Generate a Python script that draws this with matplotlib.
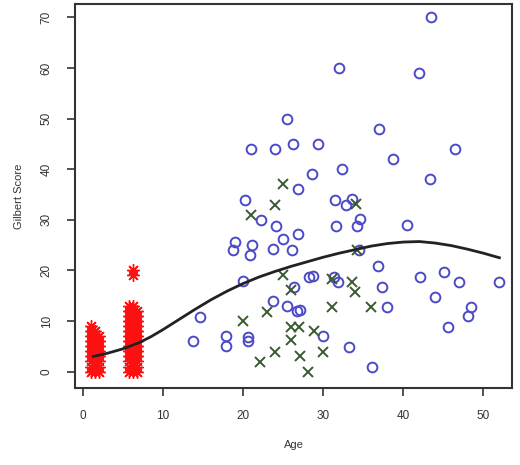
import matplotlib
matplotlib.use("Agg")
import matplotlib.pyplot as plt

plt.rcParams['font.family'] = ['Liberation Sans', 'DejaVu Sans']

# Blue circles
blue_age = [43.5, 32, 42, 25.5, 37, 21, 24, 26.2, 29.4, 46.5, 38.7, 28.6, 32.3, 43.3,
            26.8, 20.2, 31.5, 32.8, 33.6, 22.2, 24.1, 31.6, 34.2, 34.6, 40.5, 26.8,
            25, 19, 21.1, 23.7, 26.1, 18.7, 20.9, 34.5, 20, 14.6, 13.7, 17.9, 17.9,
            20.6, 20.6, 23.7, 25.5, 26.7, 27.1, 26.4, 28.2, 28.7, 31.4, 31.8, 36.9,
            37.3, 38, 42.1, 45.1, 47, 51.9, 43.9, 48.5, 48.1, 45.6, 30, 33.2, 36.1]
blue_score = [70, 60, 59, 50, 48, 44, 44, 45, 45, 44, 42, 39, 40, 38,
              36, 34, 34, 33, 34.2, 30, 28.8, 28.8, 28.7, 30.1, 29, 27.2,
              26.2, 25.7, 25, 24.3, 24, 24, 23, 24, 18, 10.8, 6, 7, 5,
              6.8, 6, 13.9, 12.9, 12, 12.2, 16.8, 18.7, 18.8, 18.7, 17.8, 20.8,
              16.8, 12.8, 18.7, 19.7, 17.8, 17.8, 14.8, 12.8, 10.9, 8.9, 7, 4.9, 1]

# Green crosses
green_age = [25, 24, 21, 34.1, 25, 26, 20, 23, 26, 27, 26, 24, 22.1, 27.1, 28.1,
             28.9, 30, 31.1, 36, 33.6, 34, 31.1, 34.2]
green_score = [37, 33, 31, 33.2, 19, 16.2, 10, 11.8, 8.8, 8.8, 6.3, 3.8, 1.9, 3, 0,
               8, 3.8, 12.8, 12.8, 17.8, 15.8, 18.3, 24]

# Red asterisks
red_age = [1, 1, 1, 1, 1, 1, 1, 1, 1, 1,
           1.5, 1.5, 1.5, 1.5, 1.5, 1.5, 1.5, 1.5, 1.5,
           2, 2, 2, 2, 2, 2, 2, 2,
           5.8, 5.8, 5.8, 5.8, 5.8, 5.8, 5.8, 5.8, 5.8, 5.8, 5.8, 5.8, 5.8, 5.8,
           6.3, 6.3, 6.3, 6.3, 6.3, 6.3, 6.3, 6.3, 6.3, 6.3, 6.3, 6.3, 6.3, 6.3,
           6.8, 6.8, 6.8, 6.8, 6.8, 6.8, 6.8, 6.8, 6.8, 6.8, 6.8, 6.8, 6.8,
           6.3, 6.3]
red_score = [0, 1, 2, 3, 4, 5, 6, 7, 8, 9,
             0, 1, 2, 3, 4, 5, 6, 7, 8,
             0, 1, 2, 3, 4, 5, 6, 7,
             0, 1, 2, 3, 4, 5, 6, 7, 8, 9, 10, 11, 12, 13,
             0, 1, 2, 3, 4, 5, 6, 7, 8, 9, 10, 11, 12, 13,
             0, 1, 2, 3, 4, 5, 6, 7, 8, 9, 10, 11, 12,
             20, 19]

# Smooth fitted curve
curve_age = [1.3, 3, 5, 7, 8.5, 10, 12, 14, 16, 18, 20, 22, 24, 26, 28, 30, 32, 34,
             36, 38, 40, 42, 44, 46, 48, 50, 52]
curve_score = [3.0, 3.6, 4.5, 5.7, 6.9, 8.3, 10.3, 12.3, 14.2, 15.9, 17.4, 18.7, 19.8,
               20.8, 21.7, 22.6, 23.4, 24.1, 24.8, 25.3, 25.6, 25.7, 25.4, 24.9, 24.2,
               23.4, 22.5]

xticks = [0, 10, 20, 30, 40, 50]
yticks = [0, 10, 20, 30, 40, 50, 60, 70]

fig = plt.figure(figsize=(5.2, 4.65), dpi=100)
ax = fig.add_axes([0.144, 0.166, 0.841, 0.825])

ax.plot(red_age, red_score, linestyle='none', marker=(8, 2, 0), markersize=9,
        color='#ff1010', markeredgewidth=1.0)
ax.plot(blue_age, blue_score, linestyle='none', marker='o', markersize=7,
        markerfacecolor='none', markeredgecolor='#4a4ac8', markeredgewidth=1.4)
ax.plot(green_age, green_score, linestyle='none', marker='x', markersize=6.5,
        color='#3a5a32', markeredgewidth=1.4)
ax.plot(curve_age, curve_score, color='#222222', linewidth=2)

ax.set_xlim(-1, 53.6)
ax.set_ylim(-3.2, 72.6)
ax.set_xticks(xticks)
ax.set_yticks(yticks)
ax.tick_params(direction='out', length=6, width=1.2, labelsize=8.5, colors='#333333',
               pad=10)
for lab in ax.get_yticklabels():
    lab.set_rotation(90)
    lab.set_va('center')
for s in ax.spines.values():
    s.set_linewidth(1.5)
    s.set_color('#333333')

ax.set_xlabel('Age', fontsize=8, labelpad=13, color='#333333')
ax.set_ylabel('Gilbert Score', fontsize=8, labelpad=12, color='#333333')

fig.savefig('out.png', dpi=100)
